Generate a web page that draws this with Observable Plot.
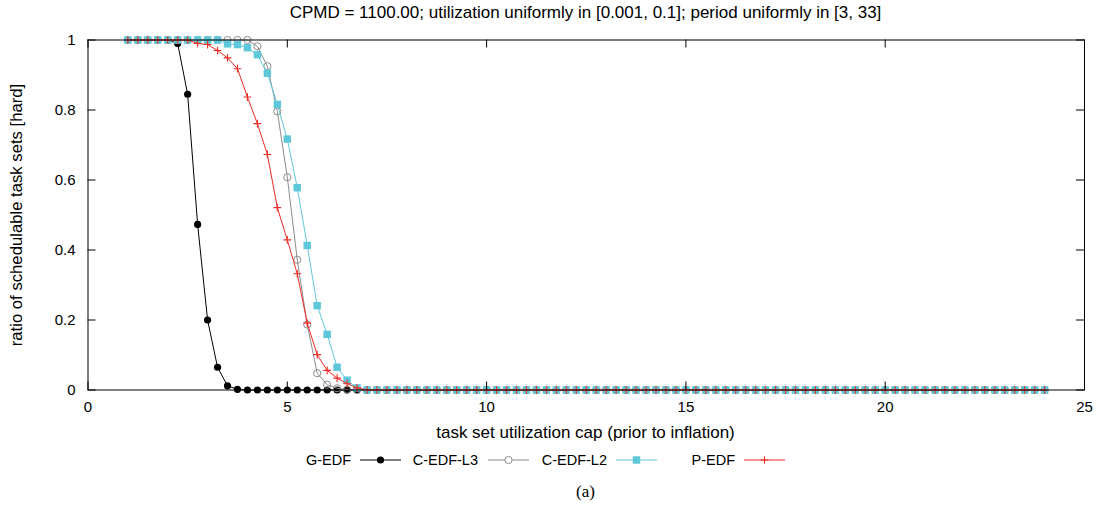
<!DOCTYPE html>
<html><head><meta charset="utf-8">
<script src="https://cdn.jsdelivr.net/npm/d3@7"></script>
<script src="https://cdn.jsdelivr.net/npm/@observablehq/plot@0.6"></script>
<style>
body{margin:0;background:#fff;font-family:"Liberation Sans",Arial,Helvetica,sans-serif;}
#wrap{position:relative;width:1103px;height:507px;overflow:hidden;}
#wrap svg{position:absolute;left:0;top:0;}
.t{position:absolute;white-space:nowrap;font-size:14.5px;color:#000;line-height:1;}
.c{transform:translate(-50%,-50%);}
</style></head><body><div id="wrap"></div>
<script>
// x grid: utilization cap from 1 to 24 in steps of 0.25
const xCaps = d3.range(1, 24.0001, 0.25);
const seriesNames = ["G-EDF", "C-EDF-L3", "C-EDF-L2", "P-EDF"];
const seriesColors = ["#000000", "#8c8c8c", "#5ec8da", "#ee2b24"];
const gEDF = [
  1,1,1,1,1,0.99,0.845,0.473,0.2,0.065,
  0.012,0.002,0,0,0,0,0,0,0,0,
  0,0,0,0,0,0,0,0,0,0,
  0,0,0,0,0,0,0,0,0,0,
  0,0,0,0,0,0,0,0,0,0,
  0,0,0,0,0,0,0,0,0,0,
  0,0,0,0,0,0,0,0,0,0,
  0,0,0,0,0,0,0,0,0,0,
  0,0,0,0,0,0,0,0,0,0,
  0,0,0];
const cEDFL3 = [
  1,1,1,1,1,1,1,1,1,1,
  1,1,1,0.982,0.925,0.796,0.608,0.372,0.187,0.048,
  0.015,0.005,0.001,0,0,0,0,0,0,0,
  0,0,0,0,0,0,0,0,0,0,
  0,0,0,0,0,0,0,0,0,0,
  0,0,0,0,0,0,0,0,0,0,
  0,0,0,0,0,0,0,0,0,0,
  0,0,0,0,0,0,0,0,0,0,
  0,0,0,0,0,0,0,0,0,0,
  0,0,0];
const cEDFL2 = [
  1,1,1,1,1,1,1,1,1,1,
  0.989,0.987,0.978,0.958,0.905,0.816,0.717,0.578,0.413,0.241,
  0.159,0.065,0.028,0.006,0,0,0,0,0,0,
  0,0,0,0,0,0,0,0,0,0,
  0,0,0,0,0,0,0,0,0,0,
  0,0,0,0,0,0,0,0,0,0,
  0,0,0,0,0,0,0,0,0,0,
  0,0,0,0,0,0,0,0,0,0,
  0,0,0,0,0,0,0,0,0,0,
  0,0,0];
const pEDF = [
  1,1,1,1,1,1,1,0.99,0.987,0.97,
  0.949,0.918,0.837,0.761,0.673,0.521,0.429,0.332,0.191,0.101,
  0.056,0.034,0.018,0.006,0,0,0,0,0,0,
  0,0,0,0,0,0,0,0,0,0,
  0,0,0,0,0,0,0,0,0,0,
  0,0,0,0,0,0,0,0,0,0,
  0,0,0,0,0,0,0,0,0,0,
  0,0,0,0,0,0,0,0,0,0,
  0,0,0,0,0,0,0,0,0,0,
  0,0,0];
const xTicks = [0, 5, 10, 15, 20, 25];
const yTicks = [0, 0.2, 0.4, 0.6, 0.8, 1];
const titleText = "CPMD = 1100.00; utilization uniformly in [0.001, 0.1]; period uniformly in [3, 33]";
const xLabel = "task set utilization cap (prior to inflation)";
const yLabel = "ratio of schedulable task sets [hard]";
const captionText = "(a)";

const allValues = [gEDF, cEDFL3, cEDFL2, pEDF];
const rows = seriesNames.map((name, s) => xCaps.map((x, i) => ({series: name, x, y: allValues[s][i]})));

const W = 1103, H = 445, mL = 87.5, mR = 19, mT = 39.5, mB = 55.5;
const plotH = H - mT - mB, plotW = W - mL - mR, tick = 8;

const symbols = ["circle", "circle", "square", "plus"];
const dotOpts = [
  {fill: "color", r: 3.6},
  {stroke: "color", fill: "none", r: 3.6, strokeWidth: 1},
  {fill: "color", r: 4.2},
  {stroke: "color", fill: "none", r: 2.6, strokeWidth: 1.1}
];

const marks = [];
rows.forEach((data, s) => {
  marks.push(Plot.line(data, {x: "x", y: "y", stroke: "series", strokeWidth: 1}));
  const o = dotOpts[s];
  marks.push(Plot.dot(data, {
    x: "x", y: "y", symbol: () => symbols[s], r: o.r,
    fill: o.fill === "color" ? "series" : o.fill,
    stroke: o.stroke === "color" ? "series" : undefined,
    strokeWidth: o.strokeWidth
  }));
});

const chart = Plot.plot({
  width: W, height: H,
  marginLeft: mL, marginRight: mR, marginTop: mT, marginBottom: mB,
  style: {fontSize: "15px", fontFamily: "'Liberation Sans', Arial, Helvetica, sans-serif", color: "#000", background: "transparent"},
  x: {domain: [0, 25]},
  y: {domain: [0, 1]},
  color: {domain: seriesNames, range: seriesColors},
  symbol: {type: "identity"},
  marks: [
    ...marks,
    Plot.frame({stroke: "#000", strokeWidth: 1}),
    Plot.tickX(xTicks, {x: d => d, stroke: "#000", insetTop: plotH - tick}),
    Plot.tickX(xTicks, {x: d => d, stroke: "#000", insetBottom: plotH - tick}),
    Plot.tickY(yTicks, {y: d => d, stroke: "#000", insetRight: plotW - tick}),
    Plot.tickY(yTicks, {y: d => d, stroke: "#000", insetLeft: plotW - tick}),
    Plot.axisX(xTicks, {tickSize: 0, tickPadding: 11, label: null, tickFormat: d => String(d)}),
    Plot.axisY(yTicks, {tickSize: 0, tickPadding: 12.5, label: null, tickFormat: d => String(d)})
  ]
});

const wrap = document.getElementById("wrap");
wrap.appendChild(chart);

function addText(txt, x, y, extra) {
  const d = document.createElement("div");
  d.className = "t c";
  d.textContent = txt;
  d.style.left = x + "px";
  d.style.top = y + "px";
  if (extra) Object.assign(d.style, extra);
  wrap.appendChild(d);
  return d;
}
addText(titleText, 585.5, 12, {fontSize: "17px"});
addText(xLabel, 585.5, 432, {fontSize: "17px"});
addText(yLabel, 17, 214.5, {fontSize: "16.7px", transform: "translate(-50%,-50%) rotate(-90deg)"});
addText(captionText, 585.5, 491, {fontFamily: "'Liberation Serif','DejaVu Serif',serif", fontSize: "17px"});

// legend
const legendY = 460;
const legendItems = [
  {textEnd: 351, lineStart: 360},
  {textEnd: 478, lineStart: 488},
  {textEnd: 607, lineStart: 616},
  {textEnd: 735, lineStart: 744}
];
const ns = "http://www.w3.org/2000/svg";
seriesNames.forEach((name, s) => {
  const it = legendItems[s];
  const d = document.createElement("div");
  d.className = "t";
  d.textContent = name;
  d.style.right = (1103 - it.textEnd) + "px";
  d.style.top = (legendY - 7.5) + "px";
  wrap.appendChild(d);
  const svg = document.createElementNS(ns, "svg");
  svg.setAttribute("width", 42); svg.setAttribute("height", 16);
  svg.style.position = "absolute";
  svg.style.left = it.lineStart + "px";
  svg.style.top = (legendY - 8) + "px";
  const ln = document.createElementNS(ns, "line");
  ln.setAttribute("x1", 0); ln.setAttribute("x2", 41);
  ln.setAttribute("y1", 8); ln.setAttribute("y2", 8);
  ln.setAttribute("stroke", seriesColors[s]);
  svg.appendChild(ln);
  const sym = document.createElementNS(ns, "path");
  const o = dotOpts[s];
  const size = Math.PI * o.r * o.r;
  const symMap = {circle: d3.symbolCircle, square: d3.symbolSquare, plus: d3.symbolPlus};
  sym.setAttribute("d", d3.symbol(symMap[symbols[s]], size)());
  sym.setAttribute("transform", "translate(20.5,8)");
  if (o.fill === "color") sym.setAttribute("fill", seriesColors[s]); else sym.setAttribute("fill", "#fff");
  if (o.stroke === "color") { sym.setAttribute("stroke", seriesColors[s]); sym.setAttribute("stroke-width", o.strokeWidth); if (symbols[s]==="plus") sym.setAttribute("fill","none"); }
  svg.appendChild(sym);
  wrap.appendChild(svg);
});
</script></body></html>
